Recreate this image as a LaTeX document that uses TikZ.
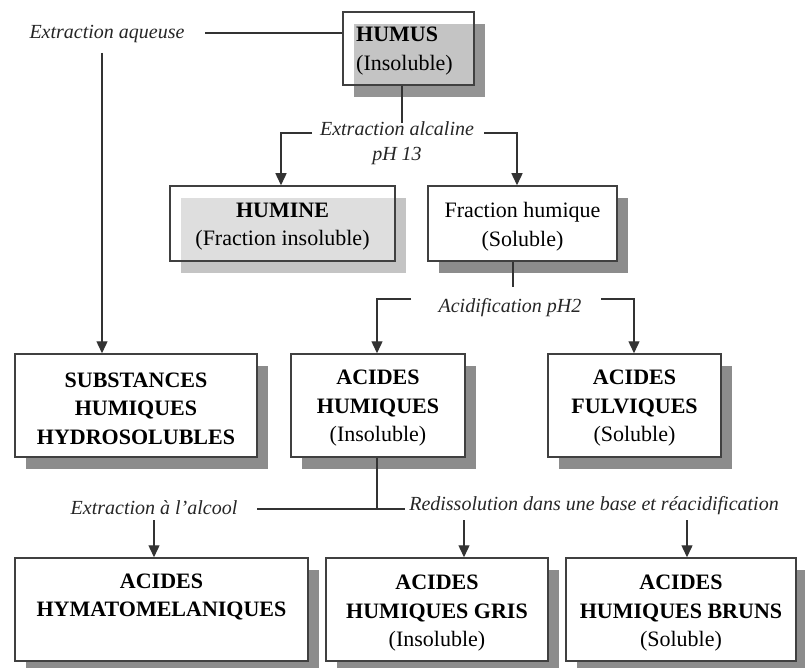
\documentclass[tikz,border=0pt]{standalone}
\usepackage{fontspec}
\setmainfont{Liberation Serif}
\usetikzlibrary{arrows.meta,calc}
\newcommand\bx[9]{%
  \node[shad, fill=#6, minimum width=#4pt, minimum height=#5pt] (#1s) at (#2+11,#3+12) {};
  \node[box, minimum width=#4pt, minimum height=#5pt, #7] (#1) at (#2,#3) {};
  \node[boxtext] (#1t) at (#2,#3+#9) {#8};}
\begin{document}
\begin{tikzpicture}[x=1pt,y=-1pt,
  box/.style={draw=black!75, line width=1.5pt, fill=white, inner sep=0pt},
  boxtext/.style={align=center, inner sep=0pt, text=black, font=\fontsize{22}{28.5}\selectfont},
  shad/.style={draw=none, inner sep=0pt},
  lab/.style={font=\fontsize{20}{25}\selectfont\itshape, align=center, text=black!85, inner sep=1pt},
  ln/.style={line width=1.4pt, draw=black!80},
  arr/.style={ln, -{Triangle[width=11pt,length=12pt]}}]
\useasboundingbox (0,0) rectangle (805,668);
\fill[white] (0,0) rectangle (805,668);

% boxes
\bx{humus}{408.5}{48.5}{131}{73}{black!42}{fill opacity=0.45}{}{0}
\node[boxtext, align=left, anchor=west] (humust) at (356,51) {\textbf{HUMUS}\\(Insoluble)};
\bx{humine}{282.5}{223.5}{225}{75}{black!23}{fill opacity=0.45}{\textbf{HUMINE}\\(Fraction insoluble)}{3}
\bx{frac}{522.5}{223.5}{189}{75}{black!45}{}{Fraction humique\\(Soluble)}{3}
\bx{subst}{136}{405.5}{242}{103}{black!45}{}{\textbf{SUBSTANCES}\\\textbf{HUMIQUES}\\\textbf{HYDROSOLUBLES}}{3}
\bx{ah}{378}{405.5}{174}{103}{black!45}{}{\textbf{ACIDES}\\\textbf{HUMIQUES}\\(Insoluble)}{3}
\bx{af}{634.5}{405.5}{173}{103}{black!45}{}{\textbf{ACIDES}\\\textbf{FULVIQUES}\\(Soluble)}{3}
\bx{hymato}{161.5}{609.5}{293}{103}{black!45}{}{\textbf{ACIDES}\\\textbf{HYMATOMELANIQUES}\\\strut}{4}
\bx{gris}{437}{609.5}{222}{103}{black!45}{}{\textbf{ACIDES}\\\textbf{HUMIQUES GRIS}\\(Insoluble)}{4}
\bx{bruns}{681}{609.5}{230}{103}{black!45}{}{\textbf{ACIDES}\\\textbf{HUMIQUES BRUNS}\\(Soluble)}{4}

% labels
\node[lab] (laq) at (107,34) {Extraction aqueuse};
\node[lab] (lalc) at (397,143) {Extraction alcaline\\pH 13};
\node[lab] (lacid) at (510,308) {Acidification pH2};
\node[lab] (lalco) at (154,508) {Extraction à l’alcool};
\node[lab] (lred) at (594,506) {Redissolution dans une base et réacidification};

% connectors
\coordinate (aq0) at (205,33);
\draw[ln] (humus.west |- aq0) -- (aq0);
\coordinate (q1) at (102,53);
\draw[arr] (q1) -- (q1 |- subst.north);

\coordinate (h1) at (402,123);
\draw[ln] (h1 |- humus.south) -- (h1);
\coordinate (k1) at (281,133); \coordinate (k2) at (312,133);
\coordinate (k3) at (484,133); \coordinate (k4) at (517,133);
\draw[arr] (k2) -- (k1) -- (k1 |- humine.north);
\draw[arr] (k3) -- (k4) -- (k4 |- frac.north);

\coordinate (f1) at (513,287);
\draw[ln] (f1 |- frac.south) -- (f1);
\coordinate (g1) at (411,299); \coordinate (g2) at (377,299);
\coordinate (g3) at (601,299); \coordinate (g4) at (634,299);
\draw[arr] (g1) -- (g2) -- (g2 |- ah.north);
\draw[arr] (g3) -- (g4) -- (g4 |- af.north);

\coordinate (m1) at (377,509);
\draw[ln] (m1 |- ah.south) -- (m1);
\coordinate (m0) at (257,509); \coordinate (m2) at (405,509);
\draw[ln] (m0) -- (m2);
\coordinate (n1) at (154,520); \coordinate (n2) at (464,520); \coordinate (n3) at (687,520);
\draw[arr] (n1) -- (n1 |- hymato.north);
\draw[arr] (n2) -- (n2 |- gris.north);
\draw[arr] (n3) -- (n3 |- bruns.north);
\end{tikzpicture}
\end{document}
